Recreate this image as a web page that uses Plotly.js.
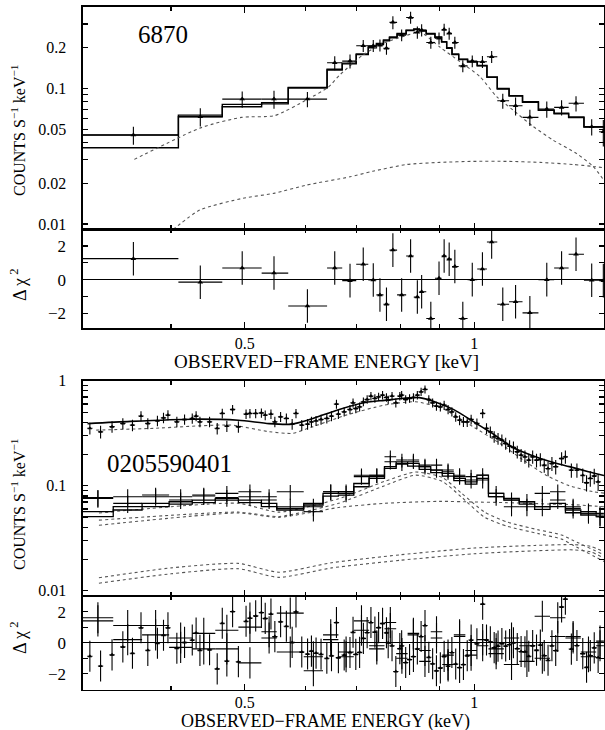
<!DOCTYPE html>
<html><head><meta charset="utf-8">
<script src="https://cdn.plot.ly/plotly-3.0.1.min.js"></script>
<style>html,body{margin:0;padding:0;background:#fff}#chart{width:605px;height:730px}</style>
</head><body><div id="chart"></div>
<script>
// ---------------- Panel 1 : obs 6870 ----------------
const p1_lo = [0.306,0.409,0.467,0.526,0.570,0.641,0.671,0.700,0.726,0.744,0.760,0.774,0.792,0.814,0.833,0.847,0.865,0.888,0.906,0.920,0.935,0.954,0.980,1.009,1.039,1.072,1.111,1.157,1.214,1.273,1.330,1.393,1.458];
const p1_hi = [0.409,0.467,0.526,0.570,0.641,0.671,0.700,0.726,0.744,0.760,0.774,0.792,0.814,0.833,0.847,0.865,0.888,0.906,0.920,0.935,0.954,0.980,1.009,1.039,1.072,1.111,1.157,1.214,1.273,1.330,1.393,1.458,1.52];
const p1_E = [0.357,0.437,0.496,0.546,0.604,0.656,0.687,0.715,0.737,0.752,0.767,0.782,0.803,0.825,0.842,0.853,0.877,0.899,0.913,0.927,0.943,0.966,0.994,1.025,1.054,1.090,1.133,1.183,1.245,1.302,1.360,1.426,1.477];
const p1_rate = [0.0454,0.0619,0.0836,0.0836,0.0836,0.155,0.1595,0.207,0.207,0.209,0.198,0.308,0.248,0.335,0.260,0.270,0.219,0.235,0.273,0.2555,0.219,0.147,0.1595,0.1576,0.1716,0.0813,0.0746,0.0613,0.0706,0.0726,0.0778,0.0522,0.048];
const p1_err = [0.0069,0.0095,0.0114,0.0128,0.0107,0.0184,0.019,0.021,0.021,0.021,0.020,0.034,0.025,0.034,0.027,0.028,0.022,0.024,0.028,0.026,0.022,0.015,0.016,0.016,0.0175,0.0104,0.0114,0.0083,0.0096,0.0093,0.010,0.0071,0.0106];
const p1_modelA = [0.0454,0.0637,0.0764,0.0787,0.102,0.139,0.154,0.18,0.205,0.215,0.228,0.24,0.255,0.27,0.275,0.268,0.255,0.24,0.222,0.2,0.18,0.165,0.158,0.148,0.122,0.100,0.0887,0.0798,0.0695,0.0657,0.0617,0.0523,0.0523];
const p1_modelB = [0.0366,0.0619,0.0733,0.077,0.101,0.137,0.152,0.178,0.2,0.212,0.225,0.237,0.252,0.268,0.273,0.266,0.253,0.238,0.22,0.198,0.178,0.164,0.157,0.147,0.121,0.099,0.088,0.079,0.069,0.065,0.061,0.052,0.052];
const p1_resid = [1.25,-0.15,0.69,0.39,-1.57,0.69,-0.06,0.92,-0.02,-0.91,-1.47,1.76,-0.91,1.41,-1.04,-0.72,-2.32,0.08,1.41,1.22,0.78,-2.32,0.0,0.63,2.24,-1.47,-1.32,-1.98,0.0,0.69,1.51,-0.04,-0.06];
const p1_comp1E = [0.358,0.439,0.495,0.547,0.605,0.643,0.666,0.714,0.759,0.831,0.849,0.902,0.958,1.017,1.070,1.124,1.194,1.269,1.363,1.432,1.48];
const p1_comp1 = [0.030,0.0517,0.0613,0.0631,0.0836,0.102,0.126,0.1765,0.2155,0.2553,0.2625,0.2017,0.1578,0.1226,0.0872,0.0694,0.0526,0.0416,0.0331,0.0266,0.021];
const p1_comp2E = [0.4025,0.4365,0.4974,0.5474,0.6026,0.6868,0.7359,0.815,0.9015,0.997,1.103,1.22,1.349,1.433,1.48];
const p1_comp2 = [0.0091,0.0127,0.0155,0.0169,0.0194,0.0223,0.0245,0.0275,0.0285,0.029,0.029,0.0285,0.0275,0.0266,0.026];

// ---------------- Panel 2 : obs 0205590401 ----------------
const pn_E = [0.313,0.3233,0.3347,0.3458,0.356,0.3653,0.3729,0.3839,0.391,0.3963,
0.4071,0.4167,0.4265,0.4315,0.4365,0.4494,0.4599,0.467,0.4735,0.4818,
0.4903,0.5018,0.5077,0.5166,0.5256,0.5317,0.541,0.5474,0.557,0.5668,
0.5768,0.5835,0.5938,0.6043,0.6114,0.62,0.6294,0.6405,0.6496,0.6594,
0.6633,0.675,0.6869,0.6933,0.6991,0.7072,0.7153,0.7235,0.7318,0.7406,
0.749,0.758,0.767,0.771,0.78,0.789,0.7986,0.803,0.8128,0.8224,
0.8321,0.842,0.8516,0.8617,0.8717,0.8818,0.892,0.9026,0.913,0.924,
0.9346,0.9455,0.9566,0.9678,0.979,0.9906,1.008,1.0257,1.0377,1.0498,
1.062,1.0745,1.087,1.0996,1.1126,1.1257,1.1388,1.152,1.1655,1.1791,
1.193,1.207,1.221,1.2355,1.2498,1.2645,1.279,1.302,1.317,1.341,
1.3637,1.388,1.404,1.42,1.437,1.454];
const pn_rate = [0.352,0.327,0.365,0.392,0.378,0.461,0.392,0.416,0.444,0.471,
0.407,0.428,0.438,0.461,0.407,0.407,0.352,0.489,0.37,0.533,
0.365,0.482,0.489,0.489,0.494,0.471,0.482,0.407,0.454,0.438,
0.387,0.489,0.378,0.387,0.407,0.416,0.428,0.438,0.461,0.6,
0.482,0.507,0.533,0.617,0.545,0.565,0.631,0.664,0.714,0.679,
0.704,0.73,0.694,0.655,0.714,0.617,0.714,0.73,0.664,0.679,
0.694,0.73,0.786,0.827,0.664,0.617,0.574,0.565,0.587,0.533,
0.507,0.454,0.422,0.407,0.407,0.428,0.392,0.489,0.352,0.327,
0.293,0.282,0.272,0.253,0.239,0.232,0.211,0.196,0.189,0.1755,
0.189,0.1755,0.178,0.157,0.146,0.163,0.152,0.182,0.189,0.141,
0.141,0.126,0.107,0.1175,0.124,0.109];
const pn_err = [0.045,0.045,0.045,0.048,0.047,0.05,0.047,0.048,0.05,0.052,
0.047,0.048,0.048,0.05,0.047,0.047,0.044,0.052,0.045,0.055,
0.045,0.05,0.05,0.05,0.05,0.05,0.05,0.046,0.049,0.048,
0.045,0.05,0.045,0.045,0.046,0.046,0.047,0.047,0.05,0.06,
0.05,0.052,0.054,0.06,0.055,0.056,0.06,0.062,0.065,0.063,
0.064,0.066,0.064,0.062,0.065,0.06,0.065,0.066,0.062,0.063,
0.064,0.066,0.07,0.072,0.062,0.06,0.057,0.056,0.058,0.054,
0.052,0.048,0.046,0.045,0.045,0.046,0.044,0.05,0.042,0.04,
0.037,0.036,0.035,0.033,0.032,0.031,0.029,0.028,0.027,0.026,
0.027,0.026,0.026,0.024,0.023,0.025,0.024,0.026,0.027,0.022,
0.022,0.02,0.019,0.02,0.021,0.02];
const pn_resid = [-0.87,-1.5,-0.78,-0.27,-0.68,0.96,-0.49,-0.04,0.48,0.96,
-0.36,0.02,0.17,0.62,-0.49,-0.45,-1.68,1.25,-1.18,2.0,
-1.22,1.38,1.58,1.72,1.94,1.56,1.84,0.39,1.35,1.06,
0.02,1.98,-0.6,-0.73,-0.54,-0.67,-0.74,-1.0,-0.84,1.3,
-0.96,-0.79,-0.63,0.67,-0.75,-0.62,0.28,0.65,1.3,0.68,
0.97,1.24,0.64,0.0,-0.2,-1.85,-0.38,-0.2,-1.27,-1.08,
-0.89,-0.4,0.4,1.1,-0.94,-1.35,-1.8,-1.62,-0.88,-1.5,
-0.63,-1.37,-1.59,-1.4,-0.84,0.17,-0.07,2.48,0.17,0.05,
-0.32,-0.22,-0.06,-0.21,-0.12,0,-0.38,-0.57,-0.59,-0.87,
-0.19,-0.48,-0.15,-0.83,-1.13,-0.2,-0.5,2.3,2.8,-0.41,
-0.18,-0.7,-1.58,-0.83,-0.33,-0.95];
const pn_modelE = [0.3108,0.354,0.4265,0.4903,0.5378,0.5768,0.6043,0.6633,0.7194,0.7624,0.808,0.847,0.887,0.940,0.996,1.056,1.119,1.186,1.257,1.333,1.412,1.48];
const pn_model = [0.39,0.41,0.43,0.42,0.39,0.386,0.42,0.53,0.62,0.65,0.68,0.69,0.63,0.53,0.41,0.315,0.235,0.196,0.17,0.152,0.136,0.125];
const pn_compE = [0.3191,0.3795,0.479,0.5378,0.5768,0.6043,0.6789,0.7624,0.837,0.9078,0.996,1.0807,1.159,1.242,1.333,1.429,1.48];
const pn_comp = [0.338,0.352,0.378,0.327,0.315,0.35,0.47,0.586,0.63,0.545,0.365,0.253,0.176,0.126,0.1,0.088,0.085];
const pn_comp2E = [0.3217,0.4903,0.5539,0.6633,0.7624,0.9,1.0,1.1,1.25,1.35,1.48];
const pn_comp2 = [0.042,0.055,0.05,0.062,0.068,0.071,0.07,0.069,0.067,0.066,0.063];

const mos_lo = [0.3061,0.3359,0.3665,0.3977,0.4265,0.4572,0.4903,0.5256,0.5506,0.5973,0.6332,0.6633,0.6949,0.7278,0.7624,0.7898,0.8176,0.8467,0.8768,0.9078,0.9401,0.9734,1.0079,1.0438,1.0935,1.1455,1.2001,1.2573,1.3172,1.3797,1.4454];
const mos_hi = [0.3359,0.3665,0.3977,0.4265,0.4572,0.4903,0.5256,0.5506,0.5973,0.6332,0.6633,0.6949,0.7278,0.7624,0.7898,0.8176,0.8467,0.8768,0.9078,0.9401,0.9734,1.0079,1.0438,1.0935,1.1455,1.2001,1.2573,1.3172,1.3797,1.4454,1.4794];
const mos_E = [0.3207,0.3509,0.3818,0.4118,0.4416,0.4735,0.5077,0.538,0.5735,0.615,0.6481,0.6789,0.7112,0.7449,0.776,0.8036,0.832,0.8616,0.8922,0.9238,0.9566,0.9905,1.0257,1.0684,1.1192,1.1725,1.2284,1.287,1.3481,1.4122,1.4623];
const mos1_rate = [0.0758,0.0786,0.0815,0.073,0.0815,0.0772,0.0877,0.0786,0.0877,0.0631,0.0877,0.0877,0.122,0.126,0.189,0.163,0.1755,0.152,0.157,0.136,0.126,0.122,0.126,0.0845,0.0631,0.0704,0.0631,0.073,0.0631,0.0566,0.0526];
const mos1_err = [0.014,0.014,0.014,0.013,0.014,0.014,0.015,0.014,0.014,0.012,0.015,0.015,0.02,0.02,0.028,0.025,0.026,0.024,0.024,0.022,0.021,0.02,0.021,0.015,0.012,0.013,0.012,0.013,0.012,0.011,0.011];
const mos1_model = [0.0566,0.0631,0.0679,0.0704,0.073,0.0758,0.073,0.0679,0.0608,0.0679,0.0845,0.0877,0.105,0.122,0.152,0.169,0.163,0.152,0.141,0.131,0.1175,0.109,0.126,0.0845,0.0758,0.0704,0.0631,0.0679,0.0587,0.0566,0.0545];
const mos1_resid = [1.4,1.1,0.5,-0.3,0.6,-0.4,1.0,0.3,1.9,-0.9,0.2,-0.6,0.8,-0.2,1.3,-0.7,0.5,-1.2,0.7,-0.8,0.4,-0.5,0.2,-0.4,-1.4,-0.2,-1.0,0.4,0.3,-0.6,-0.2];
const mos2_rate = [0.0772,0.0679,0.0786,0.0786,0.0797,0.0845,0.0786,0.073,0.0631,0.0566,0.0877,0.0845,0.126,0.126,0.169,0.1755,0.169,0.157,0.141,0.141,0.122,0.1133,0.1133,0.0786,0.073,0.0631,0.0845,0.0877,0.0608,0.0545,0.0507];
const mos2_err = [0.014,0.013,0.014,0.014,0.014,0.015,0.014,0.013,0.012,0.011,0.015,0.015,0.02,0.02,0.026,0.026,0.025,0.024,0.022,0.022,0.02,0.019,0.019,0.014,0.013,0.012,0.015,0.015,0.012,0.011,0.01];
const mos2_model = [0.0507,0.0587,0.0631,0.0669,0.0689,0.073,0.0689,0.0631,0.0587,0.0655,0.0797,0.0815,0.0978,0.1175,0.1465,0.161,0.154,0.143,0.133,0.1236,0.1116,0.1037,0.1175,0.0786,0.073,0.0669,0.0595,0.0631,0.0553,0.0526,0.0507];
const mos2_resid = [1.6,0.2,1.1,0.3,-0.4,0.8,-1.3,0.7,-0.6,-1.8,0.5,-0.9,1.4,-0.4,0.9,-1.0,0.6,-0.5,0.3,-1.4,0.5,-0.8,-0.2,-0.7,0.3,-1.2,1.7,1.6,0.4,-0.9,0.1];
const mos_compE = [0.3217,0.4903,0.5539,0.6633,0.7624,0.837,0.9078,0.9621,1.032,1.106,1.214,1.302,1.35,1.48];
const mos1_comp = [0.055,0.068,0.056,0.075,0.11,0.135,0.12,0.085,0.056,0.045,0.038,0.034,0.03,0.022];
const mos2_comp = [0.047,0.056,0.051,0.068,0.1,0.126,0.11,0.078,0.05,0.041,0.035,0.031,0.027,0.019];
const low_compE = [0.3217,0.40,0.4903,0.5539,0.65,0.80,1.0,1.2,1.35,1.42,1.48];
const low1_comp = [0.0133,0.0165,0.0182,0.015,0.0185,0.022,0.0255,0.027,0.0275,0.0265,0.0235];
const low2_comp = [0.0118,0.0145,0.0162,0.0134,0.0165,0.0195,0.0225,0.024,0.0245,0.0235,0.0205];

// ---------------- drawing ----------------
const FONT = 'Liberation Serif, Times New Roman, DejaVu Serif, serif';
const BLACK = '#000';
const DOT = '#555';
const W = 605, H = 730;
const lg = Math.log10;
const XR = [lg(0.3063), lg(1.48)];
const XDOM = [82.7 / W, 604 / W];
function ydom(top, bot) { return [1 - bot / H, 1 - top / H]; }

function steps(lo, hi, v, xa, ya, width) {
  return { x: lo.concat([hi[hi.length - 1]]), y: v.concat([v[v.length - 1]]), xaxis: xa, yaxis: ya,
    mode: 'lines', line: { shape: 'hv', color: BLACK, width: width || 1.4 }, hoverinfo: 'skip' };
}
function dotted(x, y, xa, ya) {
  return { x: x, y: y, xaxis: xa, yaxis: ya, mode: 'lines', line: { color: DOT, width: 1.1, dash: 'dot', shape: 'spline', smoothing: 0.6 }, hoverinfo: 'skip' };
}
function xerrs(E, lo, hi) {
  return { type: 'data', symmetric: false, array: E.map((e, i) => hi[i] - e), arrayminus: E.map((e, i) => e - lo[i]),
    color: BLACK, thickness: 1.1, width: 0 };
}
function pts(x, y, ey, exObj, xa, ya, msize, clip) {
  return { x: x, y: y, xaxis: xa, yaxis: ya, mode: 'markers', cliponaxis: clip,
    marker: { symbol: 'triangle-up', size: msize, color: BLACK },
    error_y: { type: 'data', array: ey, color: BLACK, thickness: 1.1, width: 0 },
    error_x: exObj, hoverinfo: 'skip' };
}
const ones = (n) => new Array(n).fill(1);

const traces = [
  steps(p1_lo, p1_hi, p1_modelA, 'x', 'y'),
  steps(p1_lo, p1_hi, p1_modelB, 'x', 'y'),
  dotted(p1_comp1E, p1_comp1, 'x', 'y'),
  dotted(p1_comp2E, p1_comp2, 'x', 'y'),
  pts(p1_E, p1_rate, p1_err, xerrs(p1_E, p1_lo, p1_hi), 'x', 'y', 5, true),
  pts(p1_E, p1_resid, ones(p1_E.length), xerrs(p1_E, p1_lo, p1_hi), 'x2', 'y2', 5, false),

  dotted(pn_compE, pn_comp, 'x3', 'y3'),
  dotted(pn_comp2E, pn_comp2, 'x3', 'y3'),
  dotted(mos_compE, mos1_comp, 'x3', 'y3'),
  dotted(mos_compE, mos2_comp, 'x3', 'y3'),
  dotted(low_compE, low1_comp, 'x3', 'y3'),
  dotted(low_compE, low2_comp, 'x3', 'y3'),
  steps(mos_lo, mos_hi, mos1_model, 'x3', 'y3', 1.3),
  steps(mos_lo, mos_hi, mos2_model, 'x3', 'y3', 1.3),
  { x: pn_modelE, y: pn_model, xaxis: 'x3', yaxis: 'y3', mode: 'lines', line: { color: BLACK, width: 1.6, shape: 'spline', smoothing: 0.7 }, hoverinfo: 'skip' },
  pts(mos_E, mos1_rate, mos1_err, xerrs(mos_E, mos_lo, mos_hi), 'x3', 'y3', 1, true),
  pts(mos_E, mos2_rate, mos2_err, xerrs(mos_E, mos_lo, mos_hi), 'x3', 'y3', 1, true),
  pts(pn_E, pn_rate, pn_err, { type: 'percent', value: 0.8, color: BLACK, thickness: 1.1, width: 0 }, 'x3', 'y3', 4, true),
  pts(mos_E, mos1_resid, ones(mos_E.length), xerrs(mos_E, mos_lo, mos_hi), 'x4', 'y4', 1, false),
  pts(mos_E, mos2_resid, ones(mos_E.length), xerrs(mos_E, mos_lo, mos_hi), 'x4', 'y4', 1, false),
  pts(pn_E, pn_resid, ones(pn_E.length), { type: 'percent', value: 0.8, color: BLACK, thickness: 1.1, width: 0 }, 'x4', 'y4', 4, false)
];

const tickFont = { family: FONT, size: 16, color: BLACK };
function xax(anchor, labels, standoff) {
  return { type: 'log', range: XR, domain: XDOM, anchor: anchor, showgrid: false, zeroline: false,
    showline: true, linecolor: BLACK, linewidth: 1.3, mirror: 'ticks', ticks: 'inside', ticklen: 6, tickwidth: 1.2, tickcolor: BLACK,
    tickvals: [0.5, 1], ticktext: ['0.5', '1'], showticklabels: labels, tickfont: tickFont, ticklabelstandoff: standoff || 0,
    minor: { tickvals: [0.4, 0.6, 0.7, 0.8, 0.9], ticklen: 4, tickwidth: 1.2, tickcolor: BLACK, ticks: 'inside' } };
}
function ylog(anchor, range, dom, tv, tt, minor) {
  return { type: 'log', range: range, domain: dom, anchor: anchor, showgrid: false, zeroline: false,
    showline: true, linecolor: BLACK, linewidth: 1.3, mirror: 'ticks', ticks: 'inside', ticklen: 5, tickwidth: 1.2, tickcolor: BLACK,
    tickvals: tv, ticktext: tt, tickfont: tickFont, ticklabelstandoff: 12,
    minor: { tickvals: minor, ticklen: 5, tickwidth: 1.2, tickcolor: BLACK, ticks: 'inside' } };
}
function yres(anchor, range, dom) {
  return { range: range, domain: dom, anchor: anchor, showgrid: false, zeroline: true, zerolinecolor: BLACK, zerolinewidth: 1.4,
    showline: true, linecolor: BLACK, linewidth: 1.3, mirror: 'ticks', ticks: 'inside', ticklen: 5, tickwidth: 1.2, tickcolor: BLACK,
    tickvals: [-2, 0, 2], ticktext: ['\u22122', '0', '2'], tickfont: { family: FONT, size: 17, color: BLACK }, ticklabelstandoff: 12,
    minor: { tickvals: [-3, -1, 1, 3], ticklen: 5, tickwidth: 1.2, tickcolor: BLACK, ticks: 'inside' } };
}

function ann(text, px, py, size, angle) {
  return { text: text, x: px / W, y: 1 - py / H, xref: 'paper', yref: 'paper', showarrow: false,
    xanchor: 'center', yanchor: 'middle', textangle: angle || 0, font: { family: FONT, size: size, color: BLACK } };
}

const layout = {
  width: W, height: H, margin: { l: 0, r: 0, t: 0, b: 0 }, paper_bgcolor: '#fff', plot_bgcolor: '#fff',
  showlegend: false, font: { family: FONT, color: BLACK },
  xaxis: xax('y', false), xaxis2: xax('y2', true), xaxis3: xax('y3', false), xaxis4: xax('y4', true, -3),
  yaxis: ylog('x', [lg(0.00914), lg(0.402)], ydom(6.7, 229.3), [0.01, 0.02, 0.05, 0.1, 0.2], ['0.01', '0.02', '0.05', '0.1', '0.2'], [0.03, 0.04, 0.06, 0.07, 0.08, 0.09, 0.3, 0.4]),
  yaxis2: yres('x2', [-2.9, 3.0], ydom(229.3, 328.3)),
  yaxis3: ylog('x3', [lg(0.00891), 0], ydom(380.7, 596), [0.01, 0.1, 1], ['0.01', '0.1', '1'], [0.02, 0.03, 0.04, 0.05, 0.06, 0.07, 0.08, 0.09, 0.2, 0.3, 0.4, 0.5, 0.6, 0.7, 0.8, 0.9]),
  yaxis4: yres('x4', [-3.04, 3.0], ydom(596, 690)),
  annotations: [
    ann('6870', 162.7, 34.7, 25),
    ann('0205590401', 169, 463.5, 25),
    ann('OBSERVED\u2212FRAME ENERGY [keV]', 326, 361, 19),
    ann('OBSERVED\u2212FRAME ENERGY (keV)', 325, 721.5, 18),
    ann('COUNTS S<sup>\u22121</sup> keV<sup>\u22121</sup>', 18, 131, 16, -90),
    ann('COUNTS S<sup>\u22121</sup> keV<sup>\u22121</sup>', 18, 505, 16, -90),
    ann('\u0394 \u03c7<sup> 2</sup>', 18, 285, 18, -90),
    ann('\u0394 \u03c7<sup> 2</sup>', 18, 638, 18, -90)
  ]
};

Plotly.newPlot('chart', traces, layout, { staticPlot: true, displayModeBar: false });
</script></body></html>
